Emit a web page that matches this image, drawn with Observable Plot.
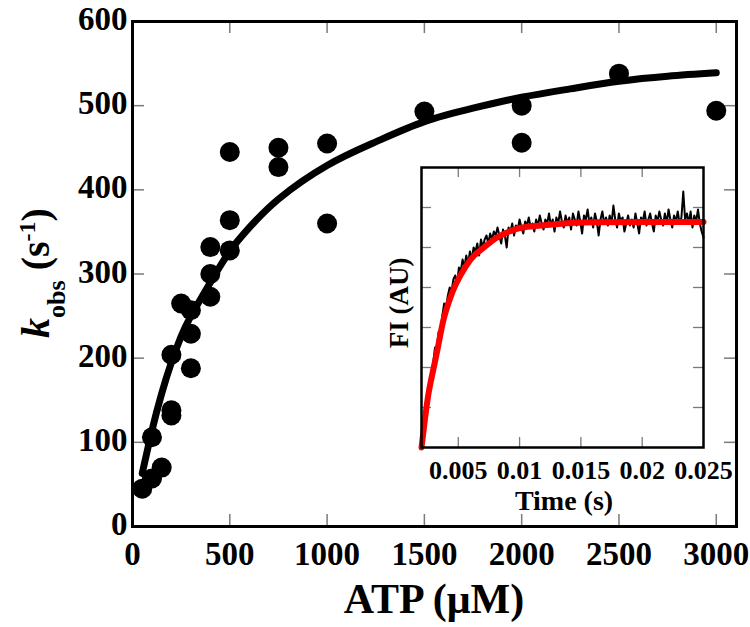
<!DOCTYPE html>
<html><head><meta charset="utf-8">
<script src="https://cdn.jsdelivr.net/npm/d3@7"></script>
<script src="https://cdn.jsdelivr.net/npm/@observablehq/plot@0.6"></script>
<style>
html,body{margin:0;padding:0;background:#fff;}
#wrap{position:relative;width:750px;height:627px;overflow:hidden;background:#fff;}
#main{position:absolute;left:0;top:0;}
#inset{position:absolute;left:380px;top:150px;}
svg text{font-family:"Liberation Serif","Times New Roman",serif !important;font-weight:bold;fill:#000;}
</style></head><body>
<div id="wrap"><div id="main"></div><div id="inset"></div></div>
<script>
// ---- main chart data ----
const atpConc = [50,100,100,150,200,200,200,250,300,300,300,400,400,400,500,500,500,750,750,1000,1000,1500,2000,2000,2500,3000];
const kobsVals = [45,57,106,70,204,138,132,265,257,229,188,332,300,273,445,364,328,450,427,455,360,493,500,456,538,494];
const fitAtp  = [50,100,150,200,250,300,400,500,600,750,1000,1250,1500,1750,2000,2250,2500,2750,3000];
const fitKobs = [63,114,158,195,226,250,290,327,355,389,429,457,481,497,510,520,529,535,539];
const xTickVals = [0,500,1000,1500,2000,2500,3000];
const yTickVals = [0,100,200,300,400,500,600];

// ---- inset data ----
const traceStart = 0.0022, traceStep = 0.00015;
const traceFI = [
 0.3,0.9,1.1,1.5,1.9,2.1,2.5,2.5,2.9,2.9,
 3.3,3.6,3.5,3.8,4.0,3.9,4.2,4.3,4.1,4.5,
 4.4,4.7,4.5,4.8,4.6,4.9,4.7,5.0,4.9,5.1,
 4.8,5.2,5.0,5.2,5.3,5.1,5.35,5.2,5.4,5.3,
 5.5,5.3,5.1,5.45,5.3,5.0,5.5,5.4,5.6,5.3,
 5.55,
 5.45,5.7,5.5,5.35,5.65,5.55,5.75,5.5,5.6,5.4,
 5.7,5.55,5.8,5.6,5.45,5.7,5.6,5.85,5.55,5.7,
 5.4,5.75,5.6,5.9,5.65,5.5,5.8,5.6,5.75,5.45,
 5.85,5.7,5.55,5.9,5.65,5.35,5.8,5.7,5.95,5.6,
 5.75,5.5,5.85,5.65,5.3,5.7,5.9,5.6,5.75,5.55,
 5.8,5.6,6.05,5.7,5.5,5.85,5.65,5.75,5.4,5.6,
 5.8,5.55,5.7,5.5,5.85,5.6,5.35,5.75,5.65,5.9,
 5.55,5.7,5.85,5.6,5.4,5.8,5.65,5.9,5.7,5.55,
 5.85,5.6,5.95,5.7,5.5,5.8,5.65,5.9,5.6,5.75,
 6.4,5.7,5.85,5.6,5.9,5.5,5.8,5.65,5.95,5.6,
 5.4,5.25
];
const fitTime = [0.0020,0.0023,0.0026,0.0030,0.0034,0.0038,0.0043,0.0048,0.0056,0.0063,0.0070,0.0077,0.0084,0.0097,0.0111,0.0136,0.0160,0.0200,0.0250];
const fitFI   = [0.0,0.75,1.4,2.0,2.6,3.2,3.7,4.08,4.52,4.8,4.98,5.15,5.29,5.46,5.53,5.6,5.63,5.64,5.64];
const insetXTicks = [0.005,0.01,0.015,0.02,0.025];
const insetYTicks = [1,2,3,4,5,6];

// ---- main plot ----
const M = {left:132, top:21, right:14, bottom:101};
const W = 750, H = 627;
const iw = W - M.left - M.right, ih = H - M.top - M.bottom;
const tickStyle = {stroke:"#7a7a7a", strokeWidth:1.5};
const pts = atpConc.map((x,i)=>({x, y:kobsVals[i]}));
const fit = fitAtp.map((x,i)=>({x, y:fitKobs[i]}));
const inner = v => v.slice(1, -1);
const serif = '"Liberation Serif", "Times New Roman", serif';

const main = Plot.plot({
  width: W, height: H,
  marginLeft: M.left, marginTop: M.top, marginRight: M.right, marginBottom: M.bottom,
  x: {domain:[0,3104], axis:null},
  y: {domain:[0,600], axis:null},
  style: {fontFamily:serif, fontWeight:"bold", background:"#fff", color:"#000", overflow:"visible"},
  marks: [
    Plot.tickY(inner(yTickVals), {y:d=>d, insetRight: iw-12, ...tickStyle}),
    Plot.tickY(inner(yTickVals), {y:d=>d, insetLeft: iw-12, ...tickStyle}),
    Plot.tickX(xTickVals.slice(1), {x:d=>d, insetTop: ih-12, ...tickStyle}),
    Plot.tickX(xTickVals.slice(1), {x:d=>d, insetBottom: ih-12, ...tickStyle}),
    Plot.line(fit, {x:"x", y:"y", stroke:"#000", strokeWidth:7, curve:"natural"}),
    Plot.dot(pts, {x:"x", y:"y", r:10, fill:"#000", stroke:null}),
    Plot.frame({stroke:"#000", strokeWidth:3}),
    Plot.axisX(xTickVals, {tickSize:0, tickPadding:15, fontSize:33, tickFormat:d=>String(d), label:null}),
    Plot.axisY(yTickVals, {tickSize:0, tickPadding:5, fontSize:33, dy:-2, tickFormat:d=>String(d), label:null})
  ]
});
document.getElementById("main").appendChild(main);

const ms = d3.select(main);
const yl = ms.append("text")
  .attr("transform","translate(49,273) rotate(-90)")
  .attr("text-anchor","middle")
  .style("font-size","40px");
yl.append("tspan").style("font-style","italic").text("k");
yl.append("tspan").style("font-size","26px").attr("dy",16).text("obs");
yl.append("tspan").attr("dy",-16).text(" (s");
yl.append("tspan").style("font-size","24px").attr("dy",-14).text("-1");
yl.append("tspan").attr("dy",14).text(")");
ms.append("text")
  .attr("x", 434).attr("y", 613)
  .attr("text-anchor","middle")
  .style("font-size","42px")
  .text("ATP (μM)");

// ---- inset plot ----
const IM = {left:41, top:17, right:47, bottom:73};
const IW = 370, IH = 370;
const iiw = IW - IM.left - IM.right, iih = IH - IM.top - IM.bottom;
const trace = traceFI.map((v,i)=>({t: traceStart + i*traceStep, v}));
const ifit = fitTime.map((t,i)=>({t, v: fitFI[i]}));
const itick = {stroke:"#7a7a7a", strokeWidth:1.3};

const inset = Plot.plot({
  width: IW, height: IH,
  marginLeft: IM.left, marginTop: IM.top, marginRight: IM.right, marginBottom: IM.bottom,
  x: {domain:[0.002,0.025], axis:null},
  y: {domain:[0,7], axis:null},
  style: {fontFamily:serif, fontWeight:"bold", background:"transparent", color:"#000", overflow:"visible"},
  marks: [
    Plot.frame({fill:"#fff", stroke:null}),
    Plot.tickY(insetYTicks, {y:d=>d, insetRight: iiw-10, ...itick}),
    Plot.tickY(insetYTicks, {y:d=>d, insetLeft: iiw-10, ...itick}),
    Plot.tickX(insetXTicks.slice(0,-1), {x:d=>d, insetTop: iih-10, ...itick}),
    Plot.tickX(insetXTicks.slice(0,-1), {x:d=>d, insetBottom: iih-10, ...itick}),
    Plot.line(trace, {x:"t", y:"v", stroke:"#000", strokeWidth:2}),
    Plot.line(ifit, {x:"t", y:"v", stroke:"#f00", strokeWidth:6, curve:"natural"}),
    Plot.frame({stroke:"#000", strokeWidth:2.5}),
    Plot.axisX(insetXTicks, {tickSize:0, tickPadding:13, fontSize:26, tickFormat:d=>String(d), label:null})
  ]
});
document.getElementById("inset").appendChild(inset);
const is = d3.select(inset);
is.append("text")
  .attr("transform","translate(28,153) rotate(-90)")
  .attr("text-anchor","middle")
  .style("font-size","27px")
  .text("FI (AU)");
is.append("text")
  .attr("x", 184).attr("y", 360)
  .attr("text-anchor","middle")
  .style("font-size","28px")
  .text("Time (s)");
</script>
</body></html>
